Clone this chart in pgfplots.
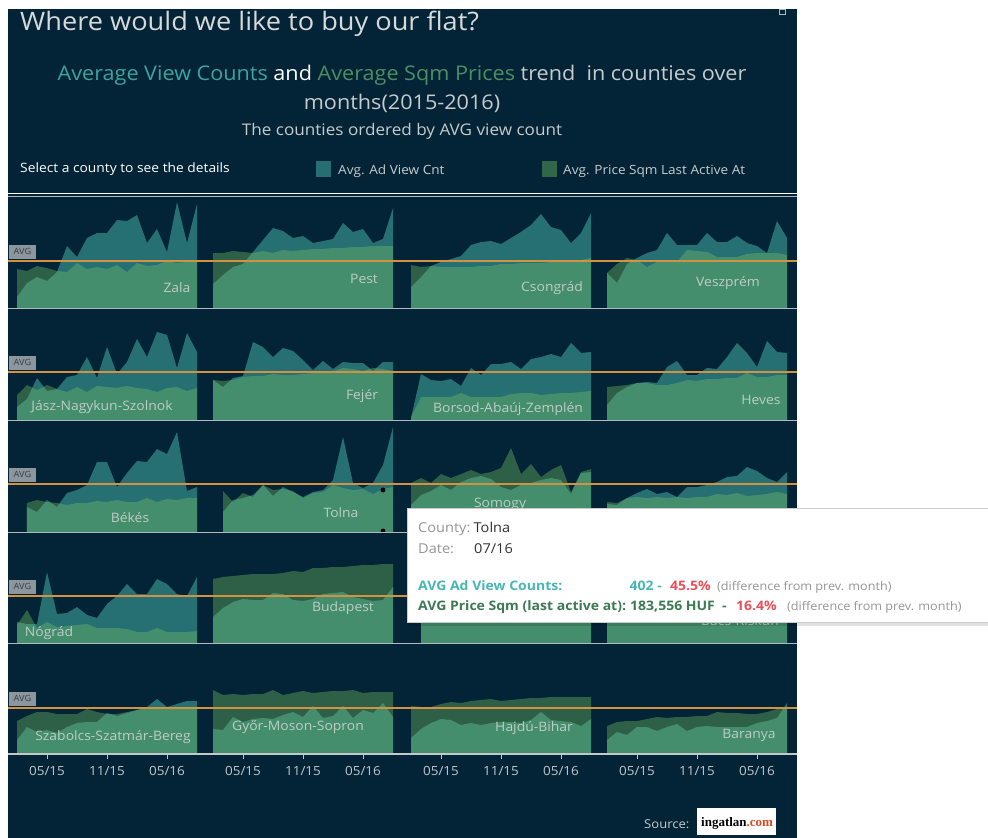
\documentclass[border=0pt]{standalone}
\usepackage{pgfplots}
\pgfplotsset{compat=1.18}
\usepackage{fontspec}
\setmainfont{Open Sans}[FakeStretch=1.07]
\newfontfamily\logofont{Liberation Serif}
\definecolor{navy}{RGB}{2,36,54}
\definecolor{tealA}{RGB}{94,226,209}
\definecolor{greenA}{RGB}{113,186,99}
\definecolor{avgorange}{RGB}{210,146,66}
\definecolor{sepgray}{RGB}{175,185,190}
\definecolor{labc}{RGB}{190,205,198}
\definecolor{titlec}{RGB}{215,217,218}
\definecolor{subteal}{RGB}{60,163,160}
\definecolor{subgreen}{RGB}{76,142,100}
\definecolor{subgray}{RGB}{200,203,205}
\definecolor{legteal}{RGB}{38,110,114}
\definecolor{leggreen}{RGB}{47,103,72}
\definecolor{ttteal}{RGB}{72,182,180}
\definecolor{ttgreen}{RGB}{60,122,84}
\definecolor{ttred}{RGB}{232,80,90}
\definecolor{ttgray}{RGB}{150,150,150}
\definecolor{ttdark}{RGB}{50,50,50}
\definecolor{avgbox}{RGB}{140,150,156}
\definecolor{avgtext}{RGB}{50,62,70}
\definecolor{ticklab}{RGB}{195,200,203}
\definecolor{comred}{RGB}{225,70,30}
\newcommand{\fs}[1]{\fontsize{#1}{#1}\selectfont}
\pgfplotsset{
  panel/.style={anchor=south west, width=180pt, height=112pt, scale only axis,
    xmin=0, xmax=18, ymin=0, ymax=112, clip=false},
  tealfill/.style={fill=tealA, fill opacity=0.4, draw=none},
  greenfill/.style={fill=greenA, fill opacity=0.4, draw=none},
  toprows/.style={hide axis},
  bottomrow/.style={hide y axis, x axis line style={draw=none}, xtick pos=left,
    tick align=outside, major tick length=5pt, ytick=\empty,
    xtick={3,9,15}, xticklabels={\mbox{05/15},\mbox{11/15},\mbox{05/16}},
    tick style={draw=ticklab, line width=1pt},
    xticklabel style={font=\fs{12.6}, text=ticklab, anchor=center, yshift=-12pt}}
}
\newcommand{\panel}[5]{%
\begin{axis}[panel, at={(#1pt,-#2pt)}, #3]
\addplot[tealfill] coordinates {#4} \closedcycle;
\addplot[greenfill] coordinates {#5} \closedcycle;
\end{axis}}
\begin{document}
\begin{tikzpicture}
\path[use as bounding box] (0pt,0pt) rectangle (988pt,-838pt);
\begin{scope}[x=1pt,y=1pt]
\fill[white] (0,0) rectangle (988,-838);
\fill[navy] (8,-9) rectangle (797,-838);
\draw[sepgray] (779,-9.5) rectangle (785,-14);
% titles
\node[anchor=base west, inner sep=0, text=titlec] at (20,-30) {\fs{25.4}Where would we like to buy our flat?};
\node[anchor=base, inner sep=0, text=subgray] at (402,-80) {\fs{20.2}{\color{subteal}Average View Counts} {\color{white}and} {\color{subgreen}Average Sqm Prices} trend\ \ in counties over};
\node[anchor=base, inner sep=0, text=subgray] at (402,-109) {\fs{20.2}months(2015-2016)};
\node[anchor=base, inner sep=0, text=subgray] at (402,-135) {\fs{16}The counties ordered by AVG view count};
\node[anchor=base west, inner sep=0, text=white] at (20,-172) {\fs{12.9}Select a county to see the details};
\fill[legteal] (316,-161) rectangle (331,-177);
\node[anchor=base west, inner sep=0, text=subgray] at (338,-174) {\fs{12.7}Avg. Ad View Cnt};
\fill[leggreen] (542,-161) rectangle (557,-177);
\node[anchor=base west, inner sep=0, text=subgray] at (563,-174) {\fs{12.7}Avg. Price Sqm Last Active At};
\draw[white, line width=1.5] (8,-193.5) -- (797,-193.5);
\draw[sepgray, line width=1] (8,-196.5) -- (797,-196.5);
\end{scope}
% ---------- Row 1 ----------
\panel{17}{308}{toprows}{(0,11)(1,25)(2,31)(3,27)(4,36)(5,62)(6,51)(7,70)(8,75)(9,75)(10,88)(11,87)(12,93)(13,65)(14,79)(15,56)(16,106)(17,65)(18,104)}{(0,39)(1,37)(2,42)(3,40)(4,37)(5,36)(6,45)(7,39)(8,41)(9,39)(10,43)(11,36)(12,45)(13,42)(14,43)(15,47)(16,45)(17,46)(18,46)}
\panel{213}{308}{toprows}{(0,24)(1,33)(2,41)(3,44)(4,56)(5,68)(6,80)(7,77)(8,70)(9,72)(10,65)(11,67)(12,69)(13,85)(14,76)(15,79)(16,65)(17,69)(18,100)}{(0,55)(1,55)(2,57)(3,56)(4,55)(5,57)(6,55)(7,58)(8,57)(9,58)(10,59)(11,59)(12,60)(13,60)(14,61)(15,61)(16,62)(17,62)(18,62)}
\panel{411}{308}{toprows}{(0,21)(1,31)(2,42)(3,46)(4,49)(5,52)(6,63)(7,66)(8,67)(9,64)(10,70)(11,76)(12,83)(13,94)(14,81)(15,78)(16,65)(17,75)(18,95)}{(0,43)(1,41)(2,42)(3,41)(4,41)(5,41)(6,41)(7,42)(8,42)(9,44)(10,44)(11,45)(12,45)(13,45)(14,46)(15,46)(16,47)(17,48)(18,50)}
\panel{607}{308}{toprows}{(0,35)(1,25)(2,44)(3,50)(4,55)(5,58)(6,75)(7,63)(8,63)(9,63)(10,75)(11,66)(12,66)(13,72)(14,65)(15,62)(16,55)(17,87)(18,70)}{(0,35)(1,44)(2,50)(3,48)(4,41)(5,46)(6,46)(7,46)(8,58)(9,57)(10,56)(11,51)(12,51)(13,51)(14,54)(15,55)(16,55)(17,55)(18,53)}
% ---------- Row 2 ----------
\panel{17}{420}{toprows}{(0,13)(1,21)(2,42)(3,29)(4,31)(5,43)(6,45)(7,63)(8,42)(9,73)(10,46)(11,58)(12,81)(13,63)(14,88)(15,85)(16,52)(17,87)(18,68)}{(0,25)(1,35)(2,30)(3,35)(4,31)(5,28)(6,33)(7,28)(8,34)(9,33)(10,32)(11,34)(12,32)(13,31)(14,28)(15,32)(16,33)(17,29)(18,32)}
\panel{213}{420}{toprows}{(0,40)(1,33)(2,42)(3,44)(4,78)(5,73)(6,63)(7,72)(8,69)(9,60)(10,50)(11,59)(12,51)(13,58)(14,57)(15,57)(16,49)(17,58)(18,58)}{(0,40)(1,39)(2,40)(3,43)(4,44)(5,44)(6,46)(7,45)(8,45)(9,46)(10,47)(11,47)(12,49)(13,52)(14,51)(15,49)(16,52)(17,51)(18,49)}
\panel{411}{420}{toprows}{(0,2)(1,46)(2,40)(3,39)(4,41)(5,34)(6,52)(7,45)(8,56)(9,56)(10,58)(11,51)(12,61)(13,63)(14,66)(15,63)(16,77)(17,67)(18,68)}{(0,3)(1,23)(2,23)(3,23)(4,23)(5,27)(6,23)(7,23)(8,23)(9,23)(10,26)(11,27)(12,27)(13,25)(14,26)(15,27)(16,27)(17,28)(18,29)}
\panel{607}{420}{toprows}{(0,15)(1,27)(2,33)(3,37)(4,38)(5,37)(6,53)(7,59)(8,45)(9,45)(10,52)(11,51)(12,63)(13,77)(14,67)(15,53)(16,79)(17,68)(18,67)}{(0,33)(1,34)(2,35)(3,37)(4,37)(5,35)(6,35)(7,37)(8,40)(9,39)(10,41)(11,41)(12,42)(13,42)(14,47)(15,43)(16,43)(17,45)(18,45)}
% ---------- Row 3 ----------
\panel{17}{532}{toprows}{(1,25)(2,20)(3,32)(4,25)(5,39)(6,42)(7,47)(8,70)(9,70)(10,45)(11,59)(12,71)(13,70)(14,83)(15,78)(16,100)(17,41)(18,45)}{(1,29)(2,32)(3,30)(4,29)(5,27)(6,29)(7,29)(8,31)(9,30)(10,32)(11,30)(12,30)(13,34)(14,30)(15,33)(16,32)(17,34)(18,34)}
\begin{axis}[panel, at={(213pt,-532pt)}, toprows]
\addplot[tealfill] coordinates {(1,20)(2,32)(3,34)(4,37)(5,47)(6,36)(7,45)(8,40)(9,35)(10,40)(11,42)(12,52)(13,95)(14,49)(15,44)(16,49)(17,67)(18,105)} \closedcycle;
\addplot[greenfill] coordinates {(1,41)(2,30)(3,39)(4,35)(5,47)(6,42)(7,43)(8,41)(9,34)(10,39)(11,40)(12,47)(13,44)(14,42)(15,43)(16,38)(17,43)(18,45)} \closedcycle;
\addplot[only marks, mark=*, mark size=2.2pt, black] coordinates {(17,42)(17,1)};
\end{axis}
\panel{411}{532}{toprows}{(0,27)(1,37)(2,41)(3,47)(4,42)(5,50)(6,54)(7,56)(8,53)(9,45)(10,42)(11,47)(12,49)(13,52)(14,54)(15,52)(16,38)(17,59)(18,60)}{(0,49)(1,54)(2,49)(3,58)(4,54)(5,58)(6,62)(7,58)(8,60)(9,64)(10,84)(11,58)(12,68)(13,55)(14,62)(15,67)(16,40)(17,60)(18,63)}
\panel{607}{532}{toprows}{(0,28)(1,27)(2,34)(3,39)(4,43)(5,38)(6,40)(7,35)(8,45)(9,45)(10,47)(11,50)(12,55)(13,56)(14,65)(15,61)(16,54)(17,50)(18,60)}{(0,30)(1,29)(2,34)(3,35)(4,34)(5,35)(6,34)(7,35)(8,34)(9,35)(10,35)(11,38)(12,37)(13,39)(14,36)(15,37)(16,38)(17,40)(18,38)}
% ---------- Row 4 ----------
\panel{17}{643}{toprows}{(0,21)(1,19)(2,19)(3,71)(4,29)(5,30)(6,36)(7,28)(8,25)(9,39)(10,47)(11,59)(12,49)(13,49)(14,64)(15,59)(16,49)(17,47)(18,66)}{(0,18)(1,33)(2,15)(3,21)(4,16)(5,17)(6,18)(7,19)(8,15)(9,15)(10,15)(11,14)(12,11)(13,11)(14,15)(15,11)(16,11)(17,11)(18,12)}
\panel{213}{643}{toprows}{(0,26)(1,35)(2,41)(3,44)(4,43)(5,43)(6,50)(7,49)(8,43)(9,42)(10,44)(11,49)(12,50)(13,51)(14,46)(15,44)(16,42)(17,43)(18,56)}{(0,64)(1,66)(2,67)(3,68)(4,69)(5,69)(6,69)(7,70)(8,72)(9,71)(10,75)(11,75)(12,76)(13,76)(14,77)(15,78)(16,78)(17,79)(18,79)}
\panel{411}{643}{toprows}{(1,40)(2,45)(3,48)(4,50)(5,52)(6,55)(7,58)(8,56)(9,60)(10,62)(11,58)(12,64)(13,66)(14,63)(15,68)(16,70)(17,66)(18,72)}{(1,35)(2,36)(3,36)(4,37)(5,38)(6,38)(7,39)(8,40)(9,40)(10,41)(11,42)(12,42)(13,43)(14,43)(15,44)(16,44)(17,45)(18,45)}
\panel{607}{643}{toprows}{(0,30)(1,35)(2,40)(3,42)(4,45)(5,48)(6,46)(7,50)(8,52)(9,55)(10,54)(11,58)(12,60)(13,57)(14,62)(15,64)(16,60)(17,66)(18,68)}{(0,32)(1,33)(2,34)(3,35)(4,35)(5,36)(6,37)(7,38)(8,38)(9,39)(10,40)(11,40)(12,41)(13,42)(14,42)(15,43)(16,44)(17,44)(18,45)}
% ---------- Row 5 ----------
\panel{17}{754}{bottomrow}{(0,14)(1,27)(2,22)(3,24)(4,21)(5,27)(6,31)(7,32)(8,32)(9,41)(10,38)(11,41)(12,44)(13,47)(14,55)(15,47)(16,50)(17,53)(18,53)}{(0,33)(1,38)(2,42)(3,42)(4,40)(5,40)(6,40)(7,45)(8,42)(9,40)(10,40)(11,42)(12,44)(13,46)(14,46)(15,47)(16,47)(17,47)(18,47)}
\panel{213}{754}{bottomrow}{(0,25)(1,24)(2,37)(3,32)(4,35)(5,36)(6,35)(7,39)(8,42)(9,37)(10,48)(11,36)(12,38)(13,48)(14,36)(15,44)(16,41)(17,51)(18,37)}{(0,64)(1,59)(2,60)(3,59)(4,60)(5,60)(6,64)(7,59)(8,61)(9,63)(10,61)(11,62)(12,63)(13,63)(14,64)(15,61)(16,62)(17,62)(18,62)}
\panel{411}{754}{bottomrow}{(0,16)(1,25)(2,31)(3,35)(4,34)(5,29)(6,31)(7,29)(8,31)(9,32)(10,32)(11,31)(12,34)(13,42)(14,34)(15,33)(16,32)(17,28)(18,35)}{(0,48)(1,47)(2,47)(3,50)(4,52)(5,51)(6,53)(7,54)(8,55)(9,53)(10,54)(11,55)(12,56)(13,56)(14,57)(15,57)(16,57)(17,57)(18,57)}
\panel{607}{754}{bottomrow}{(0,14)(1,22)(2,19)(3,27)(4,27)(5,23)(6,27)(7,30)(8,23)(9,27)(10,28)(11,27)(12,27)(13,27)(14,27)(15,31)(16,33)(17,36)(18,51)}{(0,28)(1,32)(2,33)(3,33)(4,35)(5,37)(6,36)(7,37)(8,37)(9,38)(10,38)(11,42)(12,41)(13,41)(14,40)(15,40)(16,42)(17,45)(18,47)}
\begin{scope}[x=1pt,y=1pt]
% separators
\foreach \yy in {308,420,532,643} {\draw[sepgray, line width=1] (8,-\yy) -- (797,-\yy);}
\draw[ticklab, line width=1.2] (8,-754) -- (797,-754);
% AVG lines
\foreach \yy in {261,372,484,596,708} {
  \draw[avgorange, line width=1.1] (8,-\yy) -- (797,-\yy);
  \fill[avgbox] (9,-\yy+2.5) rectangle (36,-\yy+16);
  \node[inner sep=0, text=avgtext] at (22.5,-\yy+9.2) {\fs{8.6}AVG};
}
% county labels
\begin{scope}[every node/.style={inner sep=0, text=labc, font=\fs{13}}]
\node at (177,-288) {Zala};
\node at (364,-279) {Pest};
\node at (552,-288) {Csongrád};
\node at (728,-283) {Veszprém};
\node at (102,-407) {Jász-Nagykun-Szolnok};
\node at (362,-396) {Fejér};
\node at (508,-409) {Borsod-Abaúj-Zemplén};
\node at (761,-400) {Heves};
\node at (130,-518) {Békés};
\node at (341,-513) {Tolna};
\node at (500,-504) {Somogy};
\node at (49,-633) {Nógrád};
\node at (343,-608) {Budapest};
\node at (740,-621) {Bács-Kiskun};
\node at (113,-737) {Szabolcs-Szatmár-Bereg};
\node at (298,-727) {Győr-Moson-Sopron};
\node at (534,-728) {Hajdú-Bihar};
\node at (749,-735) {Baranya};
\end{scope}
% tooltip
\fill[black, opacity=0.12] (409,-511) rectangle (992,-626);
\fill[white] (407,-508) rectangle (990,-622);
\draw[gray!40] (407,-508) rectangle (990,-622);
\node[anchor=base west, inner sep=0, text=ttgray] at (418,-532) {\fs{13.6}County:};
\node[anchor=base west, inner sep=0, text=ttdark] at (473.5,-532) {\fs{13.6}Tolna};
\node[anchor=base west, inner sep=0, text=ttgray] at (418,-553) {\fs{13.6}Date:};
\node[anchor=base west, inner sep=0, text=ttdark] at (474,-553) {\fs{13.6}07/16};
\node[anchor=base west, inner sep=0, text=ttteal] at (418,-590) {\fs{13.1}\bfseries AVG Ad View Counts:};
\node[anchor=base west, inner sep=0, text=ttteal] at (629.5,-590) {\fs{13.1}\bfseries 402 -};
\node[anchor=base west, inner sep=0, text=ttred] at (670,-590) {\fs{13.1}\bfseries 45.5\%};
\node[anchor=base west, inner sep=0, text=ttgray] at (717,-590) {\fs{11.8}(difference from prev. month)};
\node[anchor=base west, inner sep=0, text=ttgreen] at (418,-610) {\fs{13.1}\bfseries AVG Price Sqm (last active at):};
\node[anchor=base west, inner sep=0, text=ttgreen] at (630,-610) {\fs{13.1}\bfseries 183,556 HUF\ \ -};
\node[anchor=base west, inner sep=0, text=ttred] at (736,-610) {\fs{13.1}\bfseries 16.4\%};
\node[anchor=base west, inner sep=0, text=ttgray] at (787,-610) {\fs{11.8}(difference from prev. month)};
% source
\node[anchor=base west, inner sep=0, text=subgray] at (644,-828) {\fs{12.2}Source:};
\fill[white] (697,-808) rectangle (776,-835);
\node[anchor=base west, inner sep=0] at (701,-826) {\logofont\fs{13}\bfseries ingatlan{\color{comred}.com}};
\end{scope}
\end{tikzpicture}
\end{document}
